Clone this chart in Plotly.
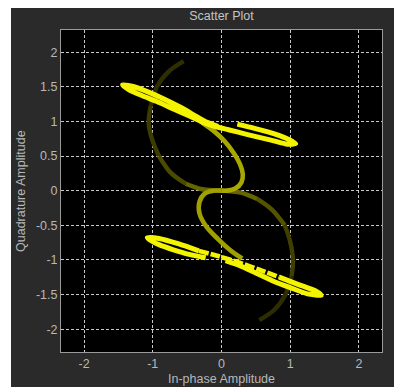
import plotly.graph_objects as go

# ---------------- data ----------------
# dark persistence trajectory: top end -> centre
DARK_A_X = [-0.55, -0.77, -0.94, -1.03, -1.06, -1.01, -0.91, -0.74, -0.52, -0.28, 0.00]
DARK_A_Y = [1.87, 1.72, 1.50, 1.22, 0.98, 0.74, 0.50, 0.26, 0.10, 0.02, 0.00]
# centre -> bottom end
DARK_B_X = [0.00, 0.28, 0.52, 0.74, 0.92, 1.00, 1.04, 1.02, 0.93, 0.77, 0.55]
DARK_B_Y = [0.00, -0.03, -0.12, -0.28, -0.50, -0.74, -1.00, -1.24, -1.50, -1.72, -1.87]

# brighter S lobes through the centre
LOBE_U_X = [-0.28, -0.11, 0.04, 0.18, 0.27, 0.31, 0.29, 0.20, 0.08, 0.00]
LOBE_U_Y = [0.98, 0.86, 0.72, 0.54, 0.38, 0.24, 0.12, 0.03, 0.00, 0.00]
LOBE_L_X = [0.00, -0.12, -0.24, -0.32, -0.32, -0.22, -0.05, 0.14, 0.30]
LOBE_L_Y = [0.00, 0.00, -0.04, -0.16, -0.33, -0.52, -0.70, -0.87, -0.98]

# bright upper elongated loop
UP_X = [0.23, 0.48, 0.77, 0.98, 1.08, 0.96, 0.72, 0.38, 0.10, -0.10, -0.28, -0.45,
        -0.70, -0.95, -1.15, -1.35, -1.44, -1.27, -1.08, -0.83, -0.59, -0.38, -0.22, -0.05]
UP_Y = [0.96, 0.90, 0.82, 0.74, 0.68, 0.67, 0.73, 0.81, 0.88, 0.93, 0.99, 1.07,
        1.18, 1.29, 1.37, 1.46, 1.53, 1.50, 1.43, 1.32, 1.20, 1.08, 0.99, 0.93]

# bright lower elongated loop
LO_X = [-0.23, -0.47, -0.71, -0.91, -1.03, -1.08, -0.91, -0.62, -0.33, -0.03, 0.26,
        0.55, 0.84, 1.13, 1.37, 1.45, 1.25, 1.00, 0.74, 0.50, 0.26, 0.06]
LO_Y = [-0.97, -0.92, -0.85, -0.78, -0.72, -0.68, -0.69, -0.77, -0.87, -0.95, -1.04,
        -1.14, -1.25, -1.36, -1.45, -1.51, -1.49, -1.40, -1.30, -1.19, -1.08, -1.01]

X_TICKS = [-2, -1, 0, 1, 2]
X_TICK_TEXT = ["-2", "-1", "0", "1", "2"]
Y_TICKS = [-2, -1.5, -1, -0.5, 0, 0.5, 1, 1.5, 2]
Y_TICK_TEXT = ["-2", "-1.5", "-1", "-0.5", "0", "0.5", "1", "1.5", "2"]

TITLE = "Scatter Plot"
X_TITLE = "In-phase Amplitude"
Y_TITLE = "Quadrature Amplitude"

# ---------------- figure ----------------
fig = go.Figure()


def seg(xs, ys, color, width=4.4, dash="solid", smoothing=0.6):
    fig.add_trace(go.Scatter(
        x=xs, y=ys, mode="lines", hoverinfo="skip", showlegend=False,
        line=dict(color=color, width=width, shape="spline", smoothing=smoothing, dash=dash),
    ))


# dark trajectory split into fading pieces
a_cuts = [(0, 4), (3, 7), (6, 9), (8, 11)]
a_cols = ["#2e2e00", "#3c3c00", "#4b4b00", "#666600"]
for (i0, i1), c in zip(a_cuts, a_cols):
    seg(DARK_A_X[i0:i1], DARK_A_Y[i0:i1], c, smoothing=0.9)
b_cuts = [(0, 3), (2, 5), (4, 8), (7, 11)]
b_cols = ["#666600", "#545400", "#3f3f00", "#2d2d00"]
for (i0, i1), c in zip(b_cuts, b_cols):
    seg(DARK_B_X[i0:i1], DARK_B_Y[i0:i1], c, smoothing=0.9)

seg(LOBE_U_X, LOBE_U_Y, "#a8a800", 4.6, smoothing=0.9)
seg(LOBE_L_X, LOBE_L_Y, "#a0a000", 4.6, smoothing=0.9)

BRIGHT = "#f4f400"
seg(UP_X, UP_Y, BRIGHT, 5)
# lower loop: solid ends, slightly broken middle stretch
seg(LO_X[:9], LO_Y[:9], BRIGHT, 5)
seg(LO_X[8:13], LO_Y[8:13], BRIGHT, 4.6, dash="10px,2px")
seg(LO_X[12:], LO_Y[12:], BRIGHT, 5)

font_family = "Liberation Sans, Arial, sans-serif"
axis_common = dict(
    showgrid=True, gridcolor="#c8c8c8", gridwidth=1, griddash="3px,2px",
    zeroline=False, showline=True, linecolor="#9a9a9a", linewidth=1, mirror=True,
    ticks="", tickfont=dict(family=font_family, size=12.5, color="#b8b8b8"),
    fixedrange=True,
)

fig.update_xaxes(range=[-2.335, 2.335], tickvals=X_TICKS, ticktext=X_TICK_TEXT, **axis_common)
fig.update_yaxes(range=[-2.33, 2.32], tickvals=Y_TICKS, ticktext=Y_TICK_TEXT, **axis_common)

W, H = 394, 379
ML, MR, MT, MB = 53, 20, 22, 35
PW, PH = W - ML - MR, H - MT - MB

fig.update_layout(
    width=W, height=H,
    margin=dict(l=ML, r=MR, t=MT, b=MB, pad=0),
    paper_bgcolor="#2a2a2a", plot_bgcolor="#000000",
    font=dict(family=font_family, size=12.5, color="#b8b8b8"),
    title=dict(text=TITLE, x=0.5, xref="paper", y=1 - 8 / H, yref="container",
               yanchor="middle", xanchor="center",
               font=dict(size=12.5, color="#c4c4c4")),
    shapes=[dict(type="rect", xref="paper", yref="paper",
                 x0=-(ML + 5) / PW, x1=-(ML - 3) / PW,
                 y0=-(MB + 5) / PH, y1=(PH + MT + 5) / PH,
                 fillcolor="#ffffff", line=dict(width=0), layer="below")],
    annotations=[
        dict(text=X_TITLE, xref="paper", yref="paper", x=0.5, y=-(371 - (MT + PH)) / PH,
             xanchor="center", yanchor="middle", showarrow=False,
             font=dict(size=12.5, color="#b8b8b8")),
        dict(text=Y_TITLE, xref="paper", yref="paper", x=-(ML - 13) / PW, y=0.5,
             xanchor="center", yanchor="middle", showarrow=False, textangle=-90,
             font=dict(size=12.5, color="#b8b8b8")),
    ],
)

fig.write_html("out.html", config=dict(displayModeBar=False))
